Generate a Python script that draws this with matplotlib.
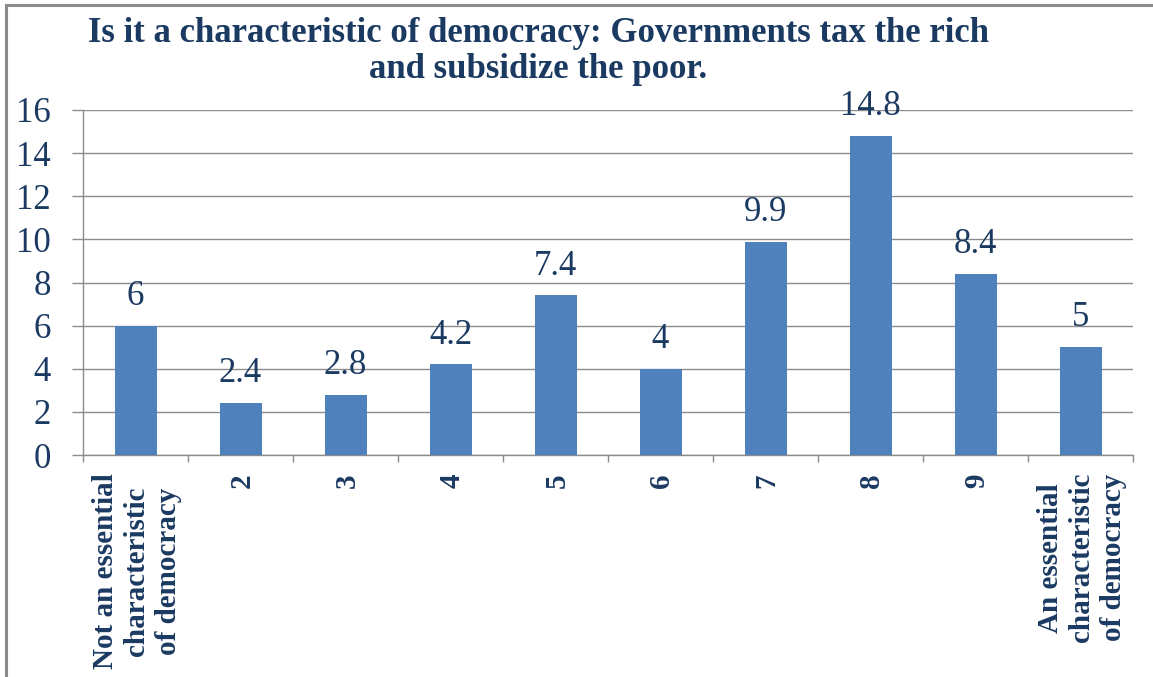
import matplotlib
matplotlib.use("Agg")
import matplotlib.pyplot as plt
import numpy as np

# survey scale 1..10, share of responses (%)
categories = ["Not an essential\ncharacteristic\nof democracy", "2", "3", "4", "5",
              "6", "7", "8", "9", "An essential\ncharacteristic\nof democracy"]
values = [6, 2.4, 2.8, 4.2, 7.4, 4, 9.9, 14.8, 8.4, 5]
value_labels = ["6", "2.4", "2.8", "4.2", "7.4", "4", "9.9", "14.8", "8.4", "5"]
yticks = [0, 2, 4, 6, 8, 10, 12, 14, 16]
title_lines = ["Is it a characteristic of democracy: Governments tax the rich",
               "and subsidize the poor."]

navy = "#1B3A62"
bar_blue = "#4F81BD"
grey = "#8C8C8C"
serif = ["Liberation Serif", "DejaVu Serif"]

W, H = 1153, 677
fig = plt.figure(figsize=(W / 100, H / 100), dpi=100)
fig.patch.set_facecolor("white")

# chart area frame (runs off right and bottom edge)
frame = plt.Rectangle((6 / W, -0.05), 1.2, 1 - 5 / H + 0.05, transform=fig.transFigure,
                      fill=False, edgecolor=grey, linewidth=2.2)
fig.add_artist(frame)

ax = fig.add_axes([83 / W, 1 - 455 / H, (1133 - 83) / W, (455 - 110) / H])
x = np.arange(len(values))
ax.bar(x, values, width=0.4, color=bar_blue, zorder=3)
ax.set_xlim(-0.5, len(values) - 0.5)
ax.set_ylim(0, 16)

ax.set_yticks(yticks)
ax.set_yticklabels([str(t) for t in yticks], fontsize=25, color=navy, family=serif)
ax.tick_params(axis="y", direction="out", length=8, width=1, color=grey, pad=15)
ax.yaxis.grid(True, color=grey, linewidth=1)
ax.set_axisbelow(True)

# ticks between categories, labels drawn separately
ax.set_xticks(np.arange(len(values) + 1) - 0.5)
ax.set_xticklabels([])
ax.tick_params(axis="x", direction="out", length=5, width=1, color=grey)

for s in ["top", "right"]:
    ax.spines[s].set_visible(False)
for s in ["left", "bottom"]:
    ax.spines[s].set_color(grey)
    ax.spines[s].set_linewidth(1)

for xi, v, lab in zip(x, values, value_labels):
    ax.annotate(lab, (xi, v), xytext=(0, 15), textcoords="offset points",
                ha="center", va="baseline", fontsize=25, color=navy, family=serif)

for xi, lab in zip(x, categories):
    ax.annotate(lab, (xi, 0), xytext=(1, -13), textcoords="offset points",
                rotation=90, ha="center", va="top",
                multialignment="center", fontsize=21, fontweight="bold",
                color=navy, family=serif, linespacing=1.2)

for yb, line in zip([42, 78], title_lines):
    fig.text(538 / W, 1 - yb / H, line, ha="center", va="baseline",
             fontsize=25, fontweight="bold", color=navy, family=serif)

fig.savefig("out.png", dpi=100, facecolor="white")
